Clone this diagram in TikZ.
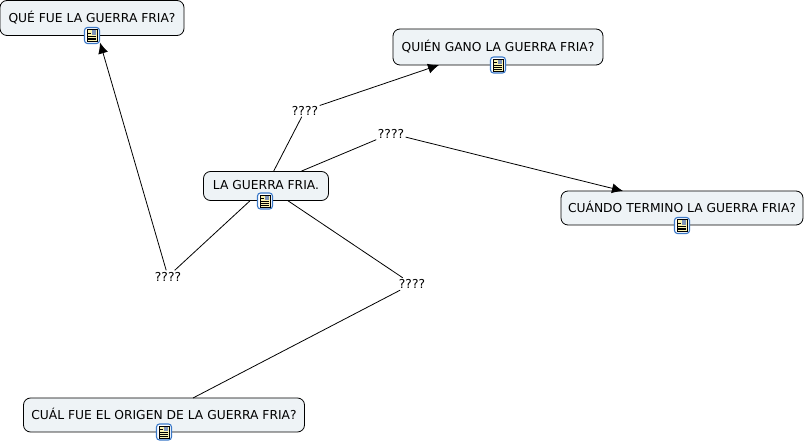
\documentclass[tikz,border=0pt]{standalone}
\usepackage{fontspec}
\setmainfont{DejaVu Sans}
\usetikzlibrary{arrows.meta}
\definecolor{boxfill}{HTML}{EEF3F6}
\definecolor{iconblue}{HTML}{3A78C8}
\definecolor{iconyellow}{HTML}{FBF3B0}
\definecolor{iconpic}{HTML}{7E93B8}
\tikzset{
  concept/.style={draw=black,fill=boxfill,rounded corners=7pt,line width=0.8pt,inner sep=0pt,align=center,font=\fontsize{12.3}{14}\selectfont,text depth=2pt},
  linklabel/.style={inner sep=0pt,minimum width=29pt,minimum height=12pt,font=\fontsize{12.3}{14}\selectfont},
  iconbox/.style={draw=iconblue,fill=white,rounded corners=3pt,line width=1.1pt,minimum width=15pt,minimum height=16pt,inner sep=0pt},
  conn/.style={draw=black,line width=0.8pt},
  arrowconn/.style={conn,-{Latex[length=11pt,width=10pt]}},
}
\newcommand{\docicon}[2]{%
  \node[iconbox] (#1) at (#2) {};
  \fill[iconyellow] ([shift={(-5,-6)}]#1.center) rectangle ([shift={(5,6)}]#1.center);
  \draw[black,line width=0.8pt] ([shift={(-5,-6)}]#1.center) rectangle ([shift={(5,6)}]#1.center);
  \fill[iconpic] ([shift={(0,-5)}]#1.center) rectangle ([shift={(4.2,-0.5)}]#1.center);
  \foreach \yy/\xe in {-2.5/-1,0.5/4,2.5/4,4.3/4}{\draw[black,line width=0.6pt] ([shift={(-4,\yy)}]#1.center) -- ([shift={(\xe,\yy)}]#1.center);}
}
\begin{document}
\begin{tikzpicture}[x=1pt,y=-1pt]
\useasboundingbox (0,0) rectangle (806,443);
\node[linklabel] (l1) at (305,110.5) {????};
\node[linklabel] (l2) at (391,133.5) {????};
\node[linklabel] (l3) at (168,276.5) {????};
\node[linklabel] (l4) at (412,284) {????};
\node[concept,minimum width=184pt,minimum height=35pt] (q1) at (92,18) {QUÉ FUE LA GUERRA FRIA?};
\node[concept,minimum width=210pt,minimum height=36pt] (q2) at (498,47) {QUIÉN GANO LA GUERRA FRIA?};
\node[concept,minimum width=125pt,minimum height=29pt] (c) at (266,186) {LA GUERRA FRIA.};
\node[concept,minimum width=242pt,minimum height=34pt] (q3) at (682,208) {CUÁNDO TERMINO LA GUERRA FRIA?};
\node[concept,minimum width=281pt,minimum height=34pt] (q4) at (164,415) {CUÁL FUE EL ORIGEN DE LA GUERRA FRIA?};
\coordinate (t1) at (100,42.5);
\coordinate (t2) at (439,65);
\coordinate (t3) at (623,191);
\coordinate (t4) at (193,398);
\draw[conn] (c) -- (l1);
\draw[conn] (c) -- (l2);
\draw[conn] (c) -- (l3);
\draw[conn] (c) -- (l4);
\draw[arrowconn] (l1) -- (t2);
\draw[arrowconn] (l2) -- (t3);
\draw[arrowconn] (l3) -- (t1);
\draw[conn] (l4) -- (t4);
\docicon{i1}{92,35.5}
\docicon{i2}{498,65}
\docicon{i3}{265,201}
\docicon{i4}{682,225.5}
\docicon{i5}{164,432}
\end{tikzpicture}
\end{document}
